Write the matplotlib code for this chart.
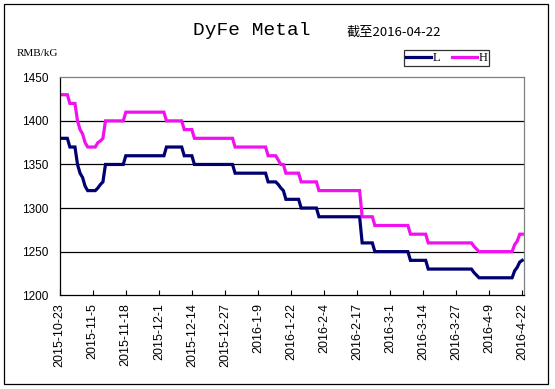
import numpy as np
import pandas as pd
import matplotlib
matplotlib.use('Agg')
import matplotlib.pyplot as plt
from matplotlib.patches import Rectangle

# daily prices, 2015-10-23 .. 2016-04-22 (one row = 13 days)
dates = pd.date_range('2015-10-23', '2016-04-22', freq='D')

low = [1380, 1380, 1380, 1380, 1370, 1370, 1370, 1350, 1340, 1335, 1325, 1320, 1320,
       1320, 1320, 1323, 1327, 1330, 1350, 1350, 1350, 1350, 1350, 1350, 1350, 1350,
       1360, 1360, 1360, 1360, 1360, 1360, 1360, 1360, 1360, 1360, 1360, 1360, 1360,
       1360, 1360, 1360, 1370, 1370, 1370, 1370, 1370, 1370, 1370, 1360, 1360, 1360,
       1360, 1350, 1350, 1350, 1350, 1350, 1350, 1350, 1350, 1350, 1350, 1350, 1350,
       1350, 1350, 1350, 1350, 1340, 1340, 1340, 1340, 1340, 1340, 1340, 1340, 1340,
       1340, 1340, 1340, 1340, 1330, 1330, 1330, 1330, 1327, 1323, 1320, 1310, 1310,
       1310, 1310, 1310, 1310, 1300, 1300, 1300, 1300, 1300, 1300, 1300, 1290, 1290,
       1290, 1290, 1290, 1290, 1290, 1290, 1290, 1290, 1290, 1290, 1290, 1290, 1290,
       1290, 1290, 1260, 1260, 1260, 1260, 1260, 1250, 1250, 1250, 1250, 1250, 1250,
       1250, 1250, 1250, 1250, 1250, 1250, 1250, 1250, 1240, 1240, 1240, 1240, 1240,
       1240, 1240, 1230, 1230, 1230, 1230, 1230, 1230, 1230, 1230, 1230, 1230, 1230,
       1230, 1230, 1230, 1230, 1230, 1230, 1230, 1226, 1223, 1220, 1220, 1220, 1220,
       1220, 1220, 1220, 1220, 1220, 1220, 1220, 1220, 1220, 1220, 1228, 1232, 1238,
       1240]

high = [1430, 1430, 1430, 1430, 1420, 1420, 1420, 1400, 1390, 1385, 1375, 1370, 1370,
        1370, 1370, 1375, 1377, 1380, 1400, 1400, 1400, 1400, 1400, 1400, 1400, 1400,
        1410, 1410, 1410, 1410, 1410, 1410, 1410, 1410, 1410, 1410, 1410, 1410, 1410,
        1410, 1410, 1410, 1400, 1400, 1400, 1400, 1400, 1400, 1400, 1390, 1390, 1390,
        1390, 1380, 1380, 1380, 1380, 1380, 1380, 1380, 1380, 1380, 1380, 1380, 1380,
        1380, 1380, 1380, 1380, 1370, 1370, 1370, 1370, 1370, 1370, 1370, 1370, 1370,
        1370, 1370, 1370, 1370, 1360, 1360, 1360, 1360, 1355, 1350, 1350, 1340, 1340,
        1340, 1340, 1340, 1340, 1330, 1330, 1330, 1330, 1330, 1330, 1330, 1320, 1320,
        1320, 1320, 1320, 1320, 1320, 1320, 1320, 1320, 1320, 1320, 1320, 1320, 1320,
        1320, 1320, 1290, 1290, 1290, 1290, 1290, 1280, 1280, 1280, 1280, 1280, 1280,
        1280, 1280, 1280, 1280, 1280, 1280, 1280, 1280, 1270, 1270, 1270, 1270, 1270,
        1270, 1270, 1260, 1260, 1260, 1260, 1260, 1260, 1260, 1260, 1260, 1260, 1260,
        1260, 1260, 1260, 1260, 1260, 1260, 1260, 1256, 1253, 1250, 1250, 1250, 1250,
        1250, 1250, 1250, 1250, 1250, 1250, 1250, 1250, 1250, 1250, 1258, 1262, 1270,
        1270]

tick_labels = ['2015-10-23', '2015-11-5', '2015-11-18', '2015-12-1', '2015-12-14',
               '2015-12-27', '2016-1-9', '2016-1-22', '2016-2-4', '2016-2-17',
               '2016-3-1', '2016-3-14', '2016-3-27', '2016-4-9', '2016-4-22']
y_ticks = [1200, 1250, 1300, 1350, 1400, 1450]

x = np.arange(len(dates))

fig = plt.figure(figsize=(5.55, 3.89), dpi=100)
ax = fig.add_axes([0.1076, 0.2411, 0.8371, 0.5602])

ax.plot(x, low, color='#000070', lw=2.3, label='L', solid_joinstyle='miter')
ax.plot(x, high, color='#f010f0', lw=2.3, label='H', solid_joinstyle='miter')

ax.set_xlim(0, 182.8)
ax.set_ylim(1200, 1450)
ax.set_yticks(y_ticks)
ax.set_yticklabels([str(v) for v in y_ticks], fontsize=8.5, family='Liberation Sans')
ax.tick_params(axis='y', length=0, pad=8.4)
ax.set_xticks(x[::13])
ax.set_xticklabels(tick_labels, rotation=90, fontsize=9, family='Liberation Sans',
                   va='top', ha='center')
ax.tick_params(axis='x', direction='in', length=3.6, width=0.8, pad=5.8)

for v in y_ticks[1:-1]:
    ax.axhline(v, color='black', lw=0.9, zorder=0)

ax.spines['left'].set_color('black')
ax.spines['bottom'].set_color('black')
ax.spines['top'].set_color('#808080')
ax.spines['right'].set_color('#808080')
for s in ax.spines.values():
    s.set_linewidth(0.9)

fig.text(252 / 555, 1 - 35 / 389, 'DyFe Metal', fontsize=14, family='Liberation Mono',
         ha='center', va='baseline')
fig.text(347 / 555, 1 - 32 / 389, '截至2016-04-22', fontsize=9.5,
         family=['Noto Sans CJK SC', 'DejaVu Sans'], ha='left', va='center')
fig.text(17 / 555, 1 - 53 / 389, 'RMB/kG', fontsize=8, family='Liberation Serif',
         ha='left', va='center')

leg = fig.legend(loc='upper left', bbox_to_anchor=(404 / 555, 1 - 50 / 389), ncol=2,
                 prop={'family': 'Liberation Serif', 'size': 9}, frameon=True,
                 fancybox=False, edgecolor='black', handlelength=2.0,
                 handletextpad=0.15, columnspacing=0.9, borderpad=0.15,
                 borderaxespad=0)
leg.get_frame().set_linewidth(0.9)

fig.patches.append(Rectangle((4 / 555, 1 - 383.5 / 389), 544 / 555, 379.5 / 389,
                             transform=fig.transFigure, fill=False,
                             edgecolor='black', lw=0.9))

fig.savefig('out.png', dpi=100)
